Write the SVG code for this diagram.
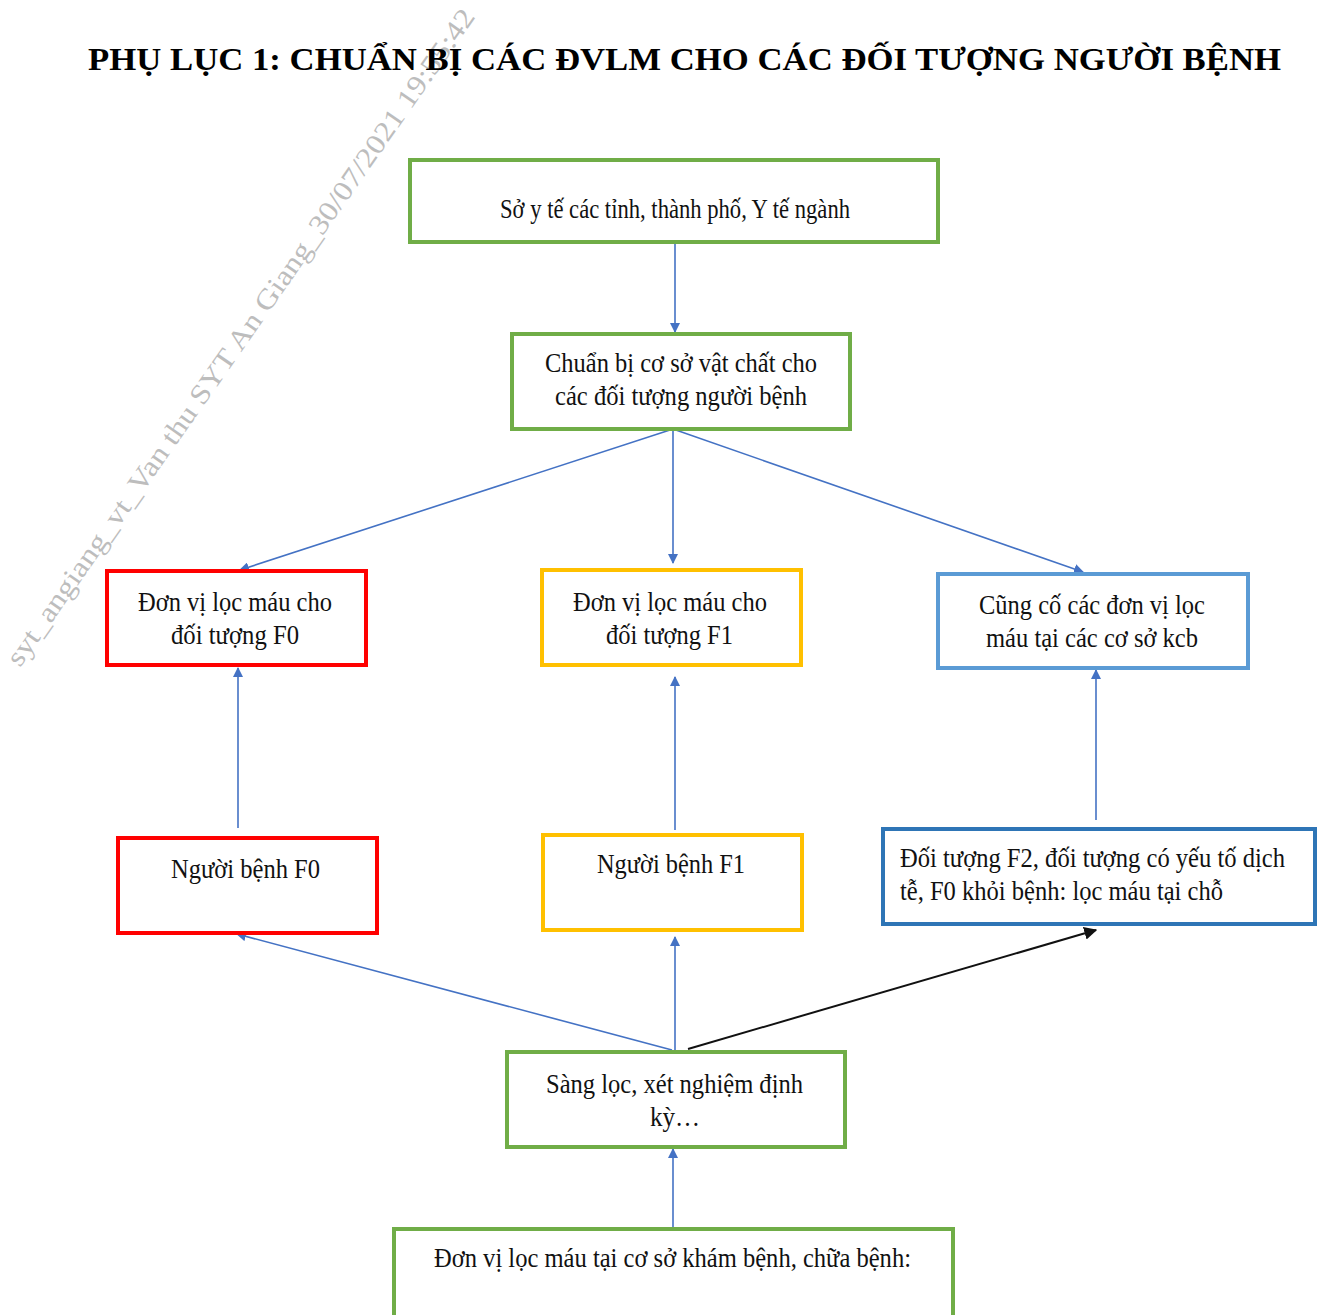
<svg xmlns="http://www.w3.org/2000/svg" width="1320" height="1315" viewBox="0 0 1320 1315">
<style>
.box{fill:#fff;stroke-width:4}
.g{stroke:#70AD47}.r{stroke:#FF0000}.y{stroke:#FFC000}.lb{stroke:#5B9BD5}.db{stroke:#2E75B6}
text{font-family:"Liberation Serif",serif}
.t{font-size:28px;fill:#111}
.c{stroke:#4472C4;stroke-width:1.6;fill:none}
.k{stroke:#111;stroke-width:2;fill:none}
</style>
<defs>
<marker id="ab" viewBox="0 0 10 10" refX="9" refY="5" markerWidth="10" markerHeight="10" markerUnits="userSpaceOnUse" orient="auto"><path d="M0,0 L10,5 L0,10 z" fill="#4472C4"/></marker>
<marker id="ak" viewBox="0 0 10 10" refX="9" refY="5" markerWidth="13" markerHeight="13" markerUnits="userSpaceOnUse" orient="auto"><path d="M0,0 L10,5 L0,10 z" fill="#111"/></marker>
</defs>
<rect width="1320" height="1315" fill="#fff"/>
<text x="20" y="668" transform="rotate(-55 20 668)" font-size="28" fill="#bdbdbd" textLength="795" lengthAdjust="spacingAndGlyphs">syt_angiang_vt_Van thu SYT An Giang_30/07/2021 19:55:42</text>
<text x="88" y="70" font-weight="bold" font-size="32" fill="#000" textLength="1193" lengthAdjust="spacingAndGlyphs">PHỤ LỤC 1: CHUẨN BỊ CÁC ĐVLM CHO CÁC ĐỐI TƯỢNG NGƯỜI BỆNH</text>
<g id="connectors">
<line class="c" x1="675" y1="242" x2="675" y2="332" marker-end="url(#ab)"/>
<line class="c" x1="673" y1="429" x2="240" y2="570" marker-end="url(#ab)"/>
<line class="c" x1="673" y1="429" x2="673" y2="563" marker-end="url(#ab)"/>
<line class="c" x1="673" y1="429" x2="1083" y2="572" marker-end="url(#ab)"/>
<line class="c" x1="238" y1="828" x2="238" y2="668" marker-end="url(#ab)"/>
<line class="c" x1="675" y1="830" x2="675" y2="677" marker-end="url(#ab)"/>
<line class="c" x1="1096" y1="820" x2="1096" y2="670" marker-end="url(#ab)"/>
<line class="c" x1="672" y1="1050" x2="237" y2="934" marker-end="url(#ab)"/>
<line class="c" x1="675" y1="1050" x2="675" y2="937" marker-end="url(#ab)"/>
<line class="k" x1="688" y1="1049" x2="1096" y2="930" marker-end="url(#ak)"/>
<line class="c" x1="673" y1="1228" x2="673" y2="1149" marker-end="url(#ab)"/>
</g>
<g id="n1"><rect class="box g" x="410" y="160" width="528" height="82"/><text class="t" x="500" y="218" textLength="350" lengthAdjust="spacingAndGlyphs">Sở y tế các tỉnh, thành phố, Y tế ngành</text></g>
<g id="n2"><rect class="box g" x="512" y="334" width="338" height="95"/><text class="t" x="545" y="372" textLength="272" lengthAdjust="spacingAndGlyphs">Chuẩn bị cơ sở vật chất cho</text><text class="t" x="555" y="405" textLength="252" lengthAdjust="spacingAndGlyphs">các đối tượng người bệnh</text></g>
<g id="n3"><rect class="box r" x="107" y="571" width="259" height="94"/><text class="t" x="138" y="611" textLength="194" lengthAdjust="spacingAndGlyphs">Đơn vị lọc máu cho</text><text class="t" x="171" y="644" textLength="128" lengthAdjust="spacingAndGlyphs">đối tượng F0</text></g>
<g id="n4"><rect class="box y" x="542" y="570" width="259" height="95"/><text class="t" x="573" y="611" textLength="194" lengthAdjust="spacingAndGlyphs">Đơn vị lọc máu cho</text><text class="t" x="606" y="644" textLength="127" lengthAdjust="spacingAndGlyphs">đối tượng F1</text></g>
<g id="n5"><rect class="box lb" x="938" y="574" width="310" height="94"/><text class="t" x="979" y="614" textLength="226" lengthAdjust="spacingAndGlyphs">Cũng cố các đơn vị lọc</text><text class="t" x="986" y="647" textLength="212" lengthAdjust="spacingAndGlyphs">máu tại các cơ sở kcb</text></g>
<g id="n6"><rect class="box r" x="118" y="838" width="259" height="95"/><text class="t" x="171" y="878" textLength="149" lengthAdjust="spacingAndGlyphs">Người bệnh F0</text></g>
<g id="n7"><rect class="box y" x="543" y="835" width="259" height="95"/><text class="t" x="597" y="873" textLength="148" lengthAdjust="spacingAndGlyphs">Người bệnh F1</text></g>
<g id="n8"><rect class="box db" x="883" y="829" width="432" height="95"/><text class="t" x="900" y="867" textLength="385" lengthAdjust="spacingAndGlyphs">Đối tượng F2, đối tượng có yếu tố dịch</text><text class="t" x="900" y="900" textLength="323" lengthAdjust="spacingAndGlyphs">tễ, F0 khỏi bệnh: lọc máu tại chỗ</text></g>
<g id="n9"><rect class="box g" x="507" y="1052" width="338" height="95"/><text class="t" x="546" y="1093" textLength="257" lengthAdjust="spacingAndGlyphs">Sàng lọc, xét nghiệm định</text><text class="t" x="650" y="1126" textLength="50" lengthAdjust="spacingAndGlyphs">kỳ…</text></g>
<g id="n10"><rect class="box g" x="394" y="1229" width="559" height="90"/><text class="t" x="434" y="1267" textLength="477" lengthAdjust="spacingAndGlyphs">Đơn vị lọc máu tại cơ sở khám bệnh, chữa bệnh:</text></g>
</svg>
